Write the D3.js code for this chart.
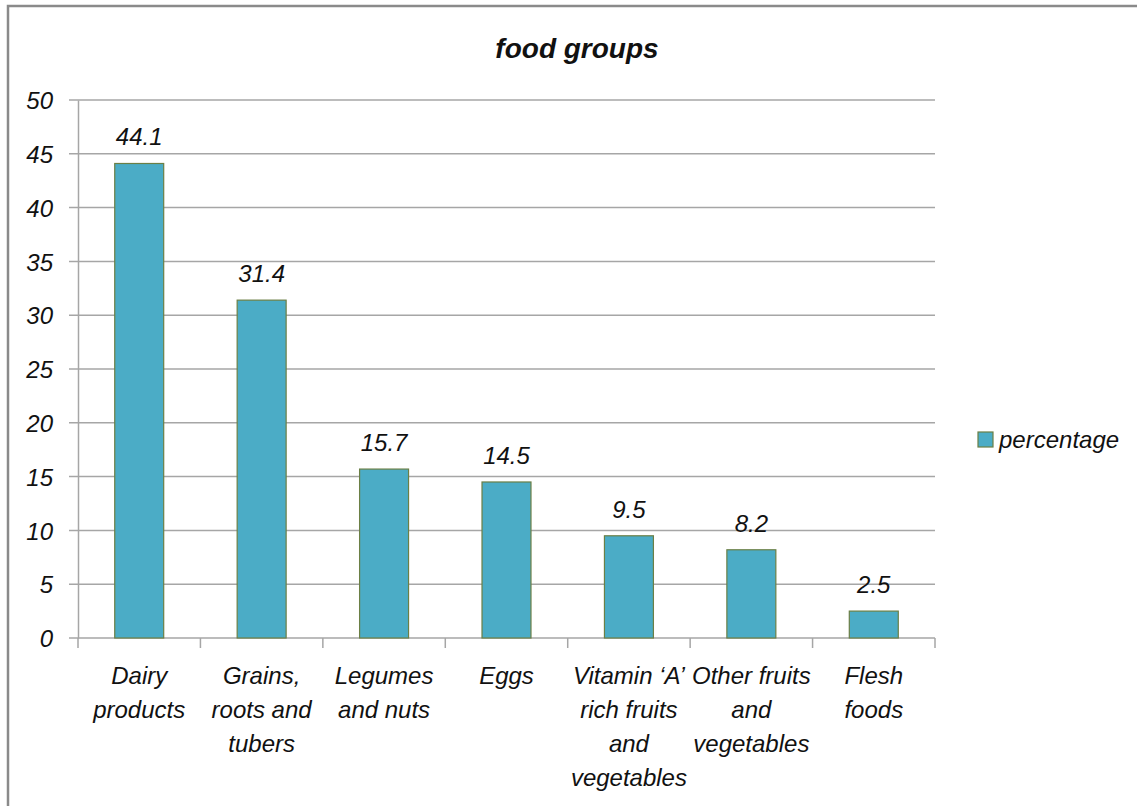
<!DOCTYPE html>
<meta charset="utf-8">
<head>
<script src="https://d3js.org/d3.v7.min.js"></script>
<style>
  body { margin: 0; background: #fff; }
  text { font-family: "Liberation Sans", Arial, sans-serif; font-style: italic; fill: #111; }
</style>
</head>
<body>
<svg id="chart" width="1137" height="806"></svg>
<script>
// data
var categories = ["Dairy\nproducts", "Grains,\nroots and\ntubers", "Legumes\nand nuts", "Eggs",
  "Vitamin \u2018A\u2019\nrich fruits\nand\nvegetables", "Other fruits\nand\nvegetables", "Flesh\nfoods"];
var values = [44.1, 31.4, 15.7, 14.5, 9.5, 8.2, 2.5];
var yTicks = [0, 5, 10, 15, 20, 25, 30, 35, 40, 45, 50];
var seriesName = "percentage";
var title = "food groups";

var svg = d3.select("#chart");

// outer frame (runs off the right and bottom edges)
svg.append("rect")
  .attr("x", 8).attr("y", 6)
  .attr("width", 1300).attr("height", 1000)
  .attr("fill", "none").attr("stroke", "#8a8a8a").attr("stroke-width", 2.5);

var plotLeft = 78, plotRight = 935, plotTop = 100, plotBottom = 638;

var x = d3.scaleBand()
  .domain(categories)
  .range([plotLeft, plotRight])
  .paddingInner(0.6)
  .paddingOuter(0.3);

var y = d3.scaleLinear()
  .domain([0, 50])
  .range([plotBottom, plotTop]);

// gridlines
svg.append("g")
  .selectAll("line")
  .data(yTicks)
  .enter()
  .append("line")
    .attr("x1", plotLeft - 9).attr("x2", plotRight)
    .attr("y1", function(d) { return y(d); })
    .attr("y2", function(d) { return y(d); })
    .attr("stroke", "#a6a6a6").attr("stroke-width", 1.5);

// y axis
var yAxis = svg.append("g")
  .attr("transform", "translate(" + plotLeft + ",0)")
  .call(d3.axisLeft(y).tickValues(yTicks).tickSize(0).tickPadding(25));
yAxis.select(".domain").attr("stroke", "#a6a6a6").attr("stroke-width", 1.5);
yAxis.selectAll("text")
  .style("font-size", "24px")
  .attr("dy", "0.36em")
  .attr("fill", "#111");

// x axis ticks at category boundaries
var bounds = d3.range(categories.length + 1).map(function(i) {
  return plotLeft + i * (plotRight - plotLeft) / categories.length;
});
svg.append("g")
  .selectAll("line")
  .data(bounds)
  .enter()
  .append("line")
    .attr("x1", function(d) { return d; }).attr("x2", function(d) { return d; })
    .attr("y1", plotBottom).attr("y2", plotBottom + 10)
    .attr("stroke", "#a6a6a6").attr("stroke-width", 1.5);

// bars
svg.append("g")
  .selectAll("rect")
  .data(values)
  .enter()
  .append("rect")
    .attr("x", function(d, i) { return x(categories[i]); })
    .attr("y", function(d) { return y(d); })
    .attr("width", x.bandwidth())
    .attr("height", function(d) { return y(0) - y(d); })
    .attr("fill", "#4bacc6")
    .attr("stroke", "#6b7f45")
    .attr("stroke-width", 1.2);

// value labels
svg.append("g")
  .selectAll("text")
  .data(values)
  .enter()
  .append("text")
    .attr("x", function(d, i) { return x(categories[i]) + x.bandwidth() / 2; })
    .attr("y", function(d) { return y(d) - 18; })
    .attr("text-anchor", "middle")
    .style("font-size", "24px")
    .text(function(d) { return d.toFixed(1); });

// category labels
var catLabels = svg.append("g")
  .selectAll("text")
  .data(categories)
  .enter()
  .append("text")
    .attr("text-anchor", "middle")
    .style("font-size", "24px");
catLabels.each(function(d) {
  var t = d3.select(this);
  var cx = x(d) + x.bandwidth() / 2;
  d.split("\n").forEach(function(line, j) {
    t.append("tspan")
      .attr("x", cx)
      .attr("y", 684 + j * 34)
      .text(line);
  });
});

// title
svg.append("text")
  .attr("x", 577).attr("y", 58)
  .attr("text-anchor", "middle")
  .style("font-size", "28px")
  .style("font-weight", "bold")
  .text(title);

// legend
var legend = svg.append("g").attr("transform", "translate(978,432)");
legend.append("rect")
  .attr("width", 15).attr("height", 15)
  .attr("fill", "#4bacc6").attr("stroke", "#6b7f45").attr("stroke-width", 1.2);
legend.append("text")
  .attr("x", 21).attr("y", 16)
  .style("font-size", "24px")
  .text(seriesName);
</script>
</body>
</html>
